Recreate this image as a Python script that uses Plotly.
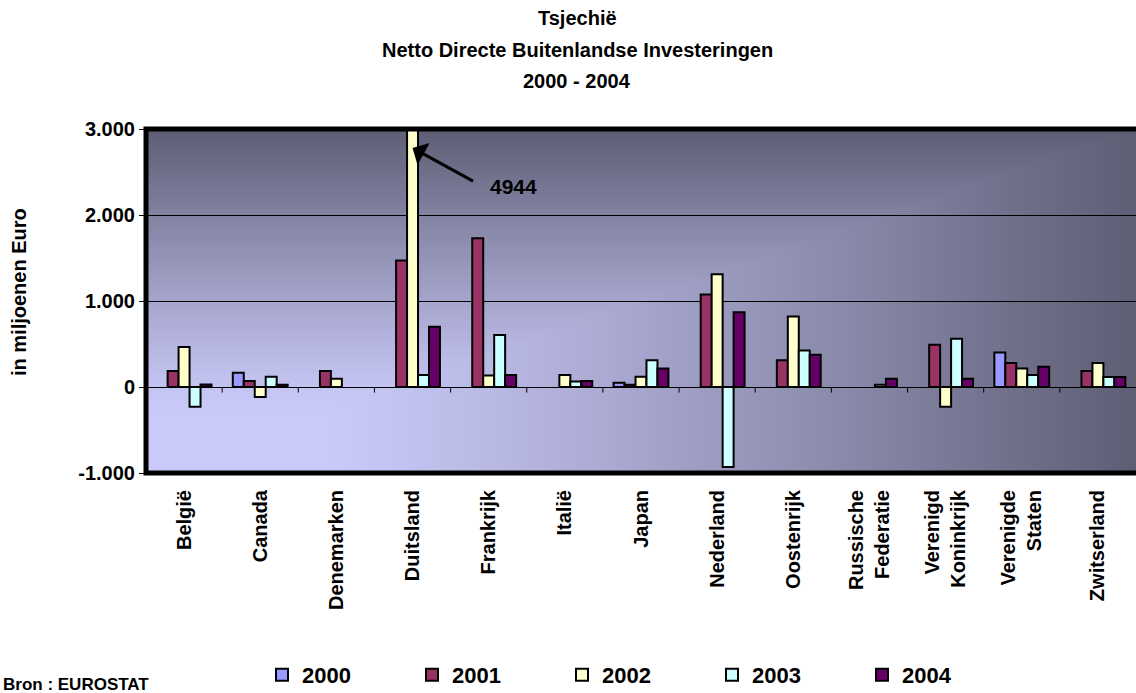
import base64
import struct
import zlib

import plotly.graph_objects as go

# ---- data (million euro) ----
countries = [
    "België", "Canada", "Denemarken", "Duitsland", "Frankrijk", "Italië",
    "Japan", "Nederland", "Oostenrijk", "Russische<br>Federatie",
    "Verenigd<br>Koninkrijk", "Verenigde<br>Staten", "Zwitserland",
]
years = ["2000", "2001", "2002", "2003", "2004"]
v2000 = [None, 165, None, None, None, None, 50, None, None, None, None, 400, None]
v2001 = [185, 70, 185, 1470, 1730, None, 25, 1075, 310, None, 490, 280, 185]
v2002 = [465, -115, 95, 4944, 135, 140, 120, 1310, 820, None, -230, 215, 280]
v2003 = [-230, 120, None, 140, 605, 65, 310, -930, 425, 25, 560, 140, 115]
v2004 = [30, 25, None, 700, 140, 70, 215, 870, 375, 95, 95, 235, 115]
series = [v2000, v2001, v2002, v2003, v2004]
colors = ["#9999FF", "#993366", "#FFFFCC", "#CCFFFF", "#660066"]

y_ticks = [-1000, 0, 1000, 2000, 3000]
y_ticktext = ["-1.000", "0", "1.000", "2.000", "3.000"]

FONT = "Liberation Sans, Arial, sans-serif"


def gradient_png(w=220, h=80):
    """Corner gradient: light lavender at bottom-left, slate towards top/right."""
    light = (202, 202, 250)
    dark = (94, 94, 117)
    rows = []
    for j in range(h):
        yn = 1 - j / (h - 1)
        row = bytearray(b"\x00")
        for i in range(w):
            xn = i / (w - 1)
            t = max(xn, yn)
            s = min(max((t - 0.18) / 0.82, 0.0), 1.0) ** 1.15
            row.extend(int(round(a + (b - a) * s)) for a, b in zip(light, dark))
        rows.append(bytes(row))
    raw = b"".join(rows)

    def chunk(tag, data):
        body = tag + data
        return struct.pack(">I", len(data)) + body + struct.pack(">I", zlib.crc32(body) & 0xFFFFFFFF)

    png = (b"\x89PNG\r\n\x1a\n"
           + chunk(b"IHDR", struct.pack(">IIBBBBB", w, h, 8, 2, 0, 0, 0))
           + chunk(b"IDAT", zlib.compress(raw, 9))
           + chunk(b"IEND", b""))
    return "data:image/png;base64," + base64.b64encode(png).decode()


fig = go.Figure()
for year, vals, col in zip(years, series, colors):
    fig.add_trace(go.Bar(
        name=year, x=list(range(len(countries))), y=vals,
        marker=dict(color=col, line=dict(color="black", width=2)),
    ))

# plot geometry in pixels
W, H = 1136, 693
L, R, T, B = 146, 0, 129, 220
PW, PH = W - L - R, H - T - B


def px_x(x):
    return (x - L) / PW


def px_y(y):
    return (H - B - y) / PH


shapes = []
# category separators hanging below the zero line
for k in range(len(countries) - 1):
    shapes.append(dict(type="line", xref="x", yref="y", x0=k + 0.5, x1=k + 0.5,
                       y0=0, y1=-65, line=dict(color="black", width=1)))
# heavy frame on left, top and bottom
shapes.append(dict(type="path", xref="paper", yref="paper",
                   path="M 1.01,1 L 0,1 L 0,0 L 1.01,0",
                   line=dict(color="black", width=5)))

annotations = []
title_lines = ["Tsjechië", "Netto Directe Buitenlandse Investeringen", "2000 - 2004"]
for text, ypix in zip(title_lines, [18, 50, 81]):
    annotations.append(dict(text=text, xref="paper", yref="paper", x=px_x(577), y=px_y(ypix),
                            showarrow=False, xanchor="center", yanchor="middle",
                            font=dict(family=FONT, size=20, color="black", weight="bold")))

annotations.append(dict(text="in miljoenen Euro", xref="paper", yref="paper",
                        x=px_x(19), y=px_y(292), textangle=-90, showarrow=False,
                        xanchor="center", yanchor="middle",
                        font=dict(family=FONT, size=20, color="black", weight="bold")))

# the Duitsland 2002 bar runs off the scale: point at it and state its value
peak_idx = 3
peak_val = v2002[peak_idx]
annotations.append(dict(text="", xref="x", yref="y", x=peak_idx, y=2780,
                        showarrow=True, ax=62, ay=34, arrowhead=1, arrowsize=1.4,
                        arrowwidth=3, arrowcolor="black", standoff=0))
annotations.append(dict(text=f"{peak_val}", xref="x", yref="y", x=peak_idx, y=2780,
                        showarrow=False, xshift=101, yshift=-39,
                        font=dict(family=FONT, size=21, color="black", weight="bold")))

annotations.append(dict(text="Bron : EUROSTAT", xref="paper", yref="paper",
                        x=px_x(1), y=px_y(684), showarrow=False,
                        xanchor="left", yanchor="middle",
                        font=dict(family=FONT, size=17, color="black", weight="bold")))

fig.update_layout(
    width=W, height=H,
    margin=dict(l=L, r=R, t=T, b=B, autoexpand=False),
    paper_bgcolor="white",
    plot_bgcolor="#9a9ac4",
    barmode="group", bargap=0.28, bargroupgap=0,
    showlegend=True,
    legend=dict(orientation="h", x=px_x(262), y=px_y(675), xanchor="left", yanchor="middle",
                entrywidth=105, entrywidthmode="pixels", traceorder="normal",
                font=dict(family=FONT, size=22, color="black", weight="bold"),
                bgcolor="rgba(0,0,0,0)"),
    images=[dict(source=gradient_png(), xref="x domain", yref="y domain",
                 x=0, y=1, sizex=1, sizey=1, xanchor="left", yanchor="top",
                 sizing="stretch", layer="below")],
    shapes=shapes,
    annotations=annotations,
    xaxis=dict(
        tickmode="array", tickvals=list(range(len(countries))), ticktext=countries,
        range=[-0.5, len(countries) - 0.5], tickangle=-90, ticks="",
        showline=False, showgrid=False, zeroline=False, ticklabelstandoff=12,
        tickfont=dict(family=FONT, size=20, color="black", weight="bold"),
        automargin=False, fixedrange=True,
    ),
    yaxis=dict(
        range=[-1000, 3000], tickmode="array", tickvals=y_ticks, ticktext=y_ticktext,
        ticks="outside", ticklen=6, tickcolor="black", tickwidth=1,
        showgrid=True, gridcolor="black", gridwidth=1,
        zeroline=True, zerolinecolor="black", zerolinewidth=1,
        showline=False,
        tickfont=dict(family=FONT, size=20, color="black", weight="bold"),
        automargin=False, fixedrange=True,
    ),
)

fig.write_html("out.html")
